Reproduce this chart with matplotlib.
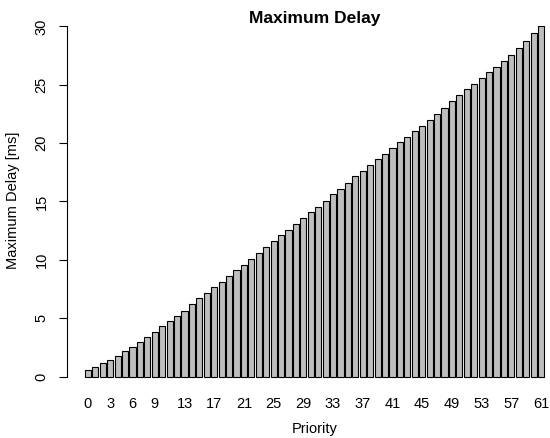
import matplotlib
matplotlib.use("Agg")
import matplotlib.pyplot as plt

priorities = list(range(62))
max_delay = [0.6, 0.85, 1.15, 1.45, 1.8, 2.2, 2.55, 2.95, 3.4, 3.85,
             4.3, 4.75, 5.2, 5.65, 6.2, 6.7, 7.2, 7.7, 8.15, 8.6,
             9.1, 9.6, 10.1, 10.6, 11.1, 11.6, 12.1, 12.6, 13.1, 13.6,
             14.1, 14.55, 15.05, 15.6, 16.1, 16.6, 17.15, 17.65, 18.15, 18.6,
             19.1, 19.6, 20.1, 20.55, 21.0, 21.5, 22.0, 22.5, 23.0, 23.6,
             24.1, 24.6, 25.1, 25.55, 26.05, 26.5, 27.0, 27.55, 28.15, 28.75,
             29.4, 30.0]
shown_labels = [0, 3, 6, 9, 13, 17, 21, 25, 29, 33, 37, 41, 45, 49, 53, 57, 61]
y_ticks = [0, 5, 10, 15, 20, 25, 30]

plt.rcParams['font.family'] = ['Liberation Sans', 'DejaVu Sans']

W, H = 550, 438
fig = plt.figure(figsize=(W / 100, H / 100), dpi=100)
# plot region in pixels (R-like): x 66.5..562.5, y 12.3..390.7
left, right, top, bottom = 66.5, 562.5, 12.3, 390.7
ax = fig.add_axes([left / W, 1 - bottom / H, (right - left) / W, (bottom - top) / H])

centers = [0.7 + 1.2 * i for i in priorities]
ax.bar(centers, max_delay, width=1.0, color='#BEBEBE', edgecolor='black', linewidth=0.8)

ax.set_xlim(-2.768, 77.368)
ax.set_ylim(-1.2, 31.2)

for s in ['top', 'right', 'bottom']:
    ax.spines[s].set_visible(False)
ax.spines['left'].set_bounds(0, 30)
ax.spines['left'].set_linewidth(0.8)

fs = 10.5
ax.set_yticks(y_ticks)
ax.set_yticklabels([str(v) for v in y_ticks], rotation=90, va='center', fontsize=fs)
ax.tick_params(axis='y', length=6, width=0.8, pad=7)

ax.set_xticks([centers[i] for i in shown_labels])
ax.set_xticklabels([str(i) for i in shown_labels], fontsize=fs)
ax.tick_params(axis='x', length=0, pad=4.3)

ax.set_xlabel('Priority', fontsize=fs, va='baseline')
ax.xaxis.set_label_coords(0.5, (bottom - 433.5) / (bottom - top))
ax.set_ylabel('Maximum Delay [ms]', fontsize=fs, rotation=90, rotation_mode='anchor',
              ha='center', va='baseline')
ax.yaxis.set_label_coords((16.7 - left) / (right - left), (bottom - 200) / (bottom - top))

fig.text(314.7 / W, 1 - 23.3 / H, 'Maximum Delay', fontsize=12.5, fontweight='bold',
         ha='center', va='baseline')

fig.savefig('out.png', dpi=100)
